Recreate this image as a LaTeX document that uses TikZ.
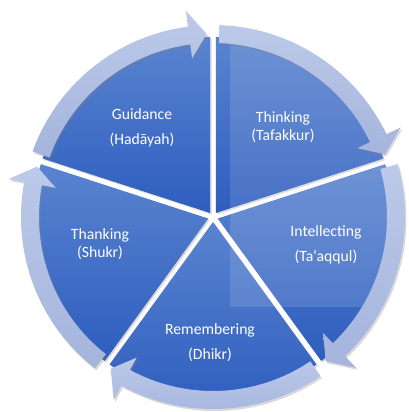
\documentclass[tikz,border=0pt]{standalone}
\usepackage{fontspec}
\setmainfont{Carlito}
\usepackage{xcolor}
\usepackage{tikz}
\usetikzlibrary{shadows}
\definecolor{segtop}{HTML}{5A84D0}
\definecolor{segbot}{HTML}{2E5DBE}
\definecolor{ringtop}{HTML}{BCC9E9}
\definecolor{ringbot}{HTML}{A4B4DC}
\tikzstyle{segment}=[top color=segtop,bottom color=segbot,draw=none,
  drop shadow={opacity=.3,shadow xshift=1.5pt,shadow yshift=-1.5pt}]
\tikzstyle{ring}=[top color=ringtop,bottom color=ringbot,draw=none,
  drop shadow={opacity=.3,shadow xshift=1.5pt,shadow yshift=-2pt}]
\tikzstyle{lbl}=[text=white,align=center,inner sep=0pt,font=\fontsize{15.7}{18}\selectfont]
\begin{document}
\begin{tikzpicture}[x=1pt,y=1pt]
	\useasboundingbox (-213,-195) rectangle (195,217);
	% pie segments, start angle of each
	\foreach \s in {162,90,18,-54,-126} {
	  \pgfmathsetmacro\e{\s-72}
	  \pgfmathsetmacro\m{\s-36}
	  \draw[segment,shift={(\m:5)}] (0,0) -- (\s:176) arc[start angle=\s,end angle=\e,radius=176] -- cycle;
	}
	\fill[white,opacity=.12] (17,-90) rectangle (195,217);
	% arrows round the ring
	\foreach \s in {162,90,18,-54,-126} {
	  \pgfmathsetmacro\a{\s-2}
	  \pgfmathsetmacro\t{\s-70}
	  \pgfmathsetmacro\b{\s-64.5}
	  \draw[ring] (\a:192) arc[start angle=\a,end angle=\b,radius=192] -- (\b:208) -- (\t:183)
	    -- (\b:160) -- (\b:174) arc[start angle=\b,end angle=\a,radius=174] -- cycle;
	}
	\node[lbl] (guid)  at (-71,89.5)  {Guidance\\[7pt](Hadāyah)};
	\node[lbl] (think) at (70,89.5)   {Thinking\\(Tafakkur)};
	\node[lbl] (intel) at (113,-27.5) {Intellecting\\[7pt](Ta‘aqqul)};
	\node[lbl] (remem) at (-3,-125.5) {Remembering\\[7pt](Dhikr)};
	\node[lbl] (thank) at (-113,-27.5){Thanking\\(Shukr)};
\end{tikzpicture}
\end{document}
